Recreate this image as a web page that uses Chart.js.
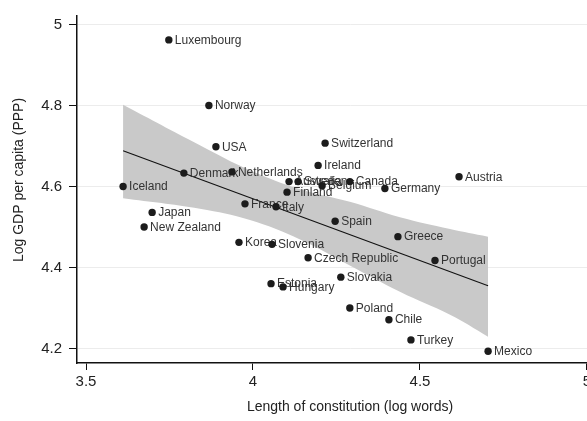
<!DOCTYPE html>
<html>
<head>
<meta charset="utf-8">
<title>Constitution length and GDP per capita</title>
<script src="https://cdn.jsdelivr.net/npm/chart.js@4.4.1/dist/chart.umd.min.js"></script>
<style>
  html, body { margin: 0; padding: 0; background: #fff; overflow: hidden; width: 587px; height: 421px; }
  canvas { display: block; }
</style>
</head>
<body>
<canvas id="chart" width="630" height="421"></canvas>
<script>
// Countries with constitution length (log words) and GDP per capita (log, PPP)
const countries = [
  'Luxembourg', 'Norway', 'USA', 'Switzerland', 'Ireland', 'Denmark', 'Netherlands', 'Iceland',
  'Australia', 'Sweden', 'Belgium', 'Canada', 'Finland', 'Germany', 'Austria', 'France', 'Italy',
  'Spain', 'Greece', 'Japan', 'New Zealand', 'Korea', 'Slovenia', 'Czech Republic', 'Portugal',
  'Slovakia', 'Estonia', 'Hungary', 'Poland', 'Chile', 'Turkey', 'Mexico'
];
const logWords = [
  3.748, 3.868, 3.889, 4.216, 4.195, 3.793, 3.937, 3.611,
  4.108, 4.135, 4.207, 4.290, 4.102, 4.395, 4.617, 3.976, 4.069,
  4.246, 4.434, 3.698, 3.674, 3.958, 4.057, 4.165, 4.545,
  4.263, 4.054, 4.090, 4.290, 4.407, 4.473, 4.704
];
const logGdp = [
  4.962, 4.800, 4.698, 4.707, 4.652, 4.633, 4.636, 4.600,
  4.612, 4.612, 4.602, 4.612, 4.586, 4.595, 4.624, 4.557, 4.550,
  4.514, 4.476, 4.536, 4.500, 4.462, 4.457, 4.424, 4.417,
  4.376, 4.360, 4.352, 4.300, 4.271, 4.221, 4.193
];

// Fitted line and its 95% confidence band
const fitX = [3.611, 4.704];
const fitY = [4.688, 4.355];
const bandX = [3.611, 3.841, 3.991, 4.141, 4.290, 4.440, 4.590, 4.704];
const bandUpper = [4.802, 4.702, 4.640, 4.593, 4.562, 4.524, 4.495, 4.476];
const bandLower = [4.571, 4.545, 4.517, 4.469, 4.405, 4.340, 4.283, 4.229];

// Axis ticks
const xTicks = [3.5, 4, 4.5, 5];
const yTicks = [4.2, 4.4, 4.6, 4.8, 5];

const FONT = '"Liberation Sans", Arial, Helvetica, sans-serif';
Chart.defaults.font.family = FONT;

const toXY = (xs, ys) => xs.map((x, i) => ({ x: x, y: ys[i] }));

// Country names next to their markers, drawn after the fit line and before the markers
const countryLabels = {
  id: 'countryLabels',
  afterDatasetDraw(chart, args) {
    if (args.index !== 1) return;
    const meta = chart.getDatasetMeta(0);
    const ctx = chart.ctx;
    ctx.save();
    ctx.font = '12px ' + FONT;
    ctx.fillStyle = '#333';
    ctx.textBaseline = 'middle';
    ctx.textAlign = 'left';
    meta.data.forEach((pt, i) => {
      ctx.fillText(countries[i], pt.x + 6, pt.y + 0.5);
    });
    ctx.restore();
  }
};

// Vertical axis title
const yAxisTitle = {
  id: 'yAxisTitle',
  afterDraw(chart) {
    const ctx = chart.ctx;
    ctx.save();
    ctx.translate(19, 180);
    ctx.rotate(-Math.PI / 2);
    ctx.font = '14px ' + FONT;
    ctx.fillStyle = '#222';
    ctx.textAlign = 'center';
    ctx.textBaseline = 'middle';
    ctx.fillText('Log GDP per capita (PPP)', 0, 0);
    ctx.restore();
  }
};

new Chart(document.getElementById('chart'), {
  type: 'scatter',
  data: {
    datasets: [
      {
        label: 'Countries',
        data: toXY(logWords, logGdp),
        pointRadius: 3.7,
        pointBackgroundColor: '#1c1c1c',
        pointBorderWidth: 0,
        order: 0
      },
      {
        label: 'Fitted values',
        data: toXY(fitX, fitY),
        showLine: true,
        pointRadius: 0,
        borderColor: '#111',
        borderWidth: 1.1,
        fill: false,
        order: 1
      },
      {
        label: '95% CI upper',
        data: toXY(bandX, bandUpper),
        showLine: true,
        pointRadius: 0,
        borderWidth: 0,
        borderColor: 'rgba(0,0,0,0)',
        backgroundColor: '#c9c9c9',
        tension: 0.4,
        fill: '+1',
        order: 2
      },
      {
        label: '95% CI lower',
        data: toXY(bandX, bandLower),
        showLine: true,
        pointRadius: 0,
        borderWidth: 0,
        borderColor: 'rgba(0,0,0,0)',
        tension: 0.4,
        fill: false,
        order: 3
      }
    ]
  },
  options: {
    responsive: false,
    animation: false,
    events: [],
    layout: { padding: { top: 3, right: 7, left: 0, bottom: 0 } },
    plugins: { legend: { display: false }, tooltip: { enabled: false } },
    scales: {
      x: {
        type: 'linear',
        min: 3.473,
        max: 5.108,
        afterBuildTicks: s => { s.ticks = xTicks.map(v => ({ value: v })); },
        afterFit: s => { s.height = 58; },
        grid: { drawOnChartArea: false, tickLength: 7, tickColor: '#111', tickWidth: 1 },
        border: { color: '#111', width: 1.5 },
        ticks: {
          font: { size: 15 }, color: '#222', padding: 3,
          maxRotation: 0, autoSkip: false,
          callback: v => String(v)
        },
        title: {
          display: true,
          text: 'Length of constitution (log words)',
          font: { size: 14 }, color: '#222',
          padding: { top: 0, bottom: 5 }
        }
      },
      y: {
        type: 'linear',
        min: 4.164,
        max: 5.021,
        afterBuildTicks: s => { s.ticks = yTicks.map(v => ({ value: v })); },
        afterFit: s => { s.width = 77; },
        grid: { color: '#ececec', lineWidth: 1, tickLength: 8, tickColor: '#111', tickWidth: 1 },
        border: { color: '#111', width: 1.5 },
        ticks: {
          font: { size: 15 }, color: '#222', padding: 7,
          autoSkip: false,
          callback: v => String(v)
        }
      }
    }
  },
  plugins: [countryLabels, yAxisTitle]
});
</script>
</body>
</html>
